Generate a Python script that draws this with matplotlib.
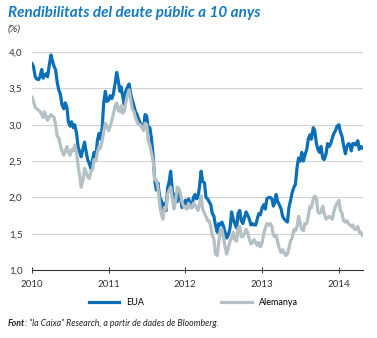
import numpy as np
import pandas as pd
import matplotlib
matplotlib.use("Agg")
import matplotlib.pyplot as plt
import matplotlib.dates as mdates
from matplotlib.ticker import FuncFormatter

plt.rcParams["font.family"] = ["Lato", "DejaVu Sans"]

# 4 readings per month (approx. 1st, 8th, 16th, 23rd), Jan 2010 - Apr 2014
months = pd.date_range("2010-01-01", "2014-04-01", freq="MS")
day_offsets = [0, 7, 15, 22]

eua = [
    # 2010
    3.84, 3.80, 3.66, 3.63, 3.62, 3.66, 3.76, 3.64, 3.68, 3.70, 3.66, 3.80,
    3.96, 3.88, 3.80, 3.76, 3.58, 3.48, 3.42, 3.28, 3.22, 3.30, 3.24, 3.04,
    2.98, 3.04, 2.96, 3.00, 2.88, 2.70, 2.62, 2.56, 2.68, 2.76, 2.62, 2.52,
    2.46, 2.40, 2.52, 2.62, 2.56, 2.78, 2.88, 2.80, 2.96, 3.30, 3.46, 3.32,
    # 2011
    3.34, 3.40, 3.36, 3.42, 3.58, 3.72, 3.60, 3.46, 3.52, 3.40, 3.28, 3.46,
    3.52, 3.56, 3.42, 3.34, 3.26, 3.18, 3.14, 3.08, 3.02, 2.98, 2.94, 3.14,
    3.12, 2.94, 2.96, 2.82, 2.56, 2.24, 2.10, 2.20, 2.00, 1.96, 1.84, 1.92,
    1.82, 2.12, 2.22, 2.36, 2.06, 2.04, 1.96, 1.94, 2.08, 2.00, 1.86, 1.90,
    # 2012
    1.96, 1.90, 1.98, 1.92, 1.86, 2.00, 2.04, 1.98, 2.00, 2.14, 2.36, 2.22,
    2.20, 2.00, 1.98, 1.94, 1.90, 1.78, 1.74, 1.62, 1.52, 1.64, 1.62, 1.66,
    1.60, 1.52, 1.44, 1.48, 1.58, 1.80, 1.70, 1.64, 1.58, 1.78, 1.82, 1.68,
    1.64, 1.72, 1.80, 1.76, 1.70, 1.62, 1.64, 1.62, 1.62, 1.70, 1.78, 1.76,
    # 2013
    1.86, 1.90, 1.84, 1.98, 2.00, 2.00, 1.98, 1.88, 1.92, 2.04, 1.94, 1.90,
    1.84, 1.74, 1.70, 1.68, 1.66, 1.86, 1.96, 2.06, 2.14, 2.18, 2.42, 2.54,
    2.50, 2.62, 2.50, 2.58, 2.66, 2.80, 2.86, 2.80, 2.96, 2.92, 2.74, 2.66,
    2.62, 2.70, 2.54, 2.52, 2.60, 2.74, 2.70, 2.74, 2.82, 2.88, 2.92, 2.98,
    # 2014
    3.00, 2.90, 2.84, 2.72, 2.60, 2.70, 2.74, 2.72, 2.64, 2.74, 2.74, 2.72,
    2.78, 2.66, 2.70, 2.68,
]

alemanya = [
    # 2010
    3.38, 3.32, 3.24, 3.22, 3.20, 3.18, 3.14, 3.10, 3.18, 3.12, 3.06, 3.10,
    3.14, 3.12, 3.10, 3.00, 2.84, 2.82, 2.72, 2.64, 2.58, 2.64, 2.70, 2.62,
    2.58, 2.66, 2.64, 2.72, 2.62, 2.44, 2.30, 2.14, 2.24, 2.40, 2.34, 2.28,
    2.26, 2.36, 2.38, 2.52, 2.50, 2.62, 2.70, 2.68, 2.78, 2.90, 3.02, 2.98,
    # 2011
    2.92, 2.98, 3.06, 3.14, 3.26, 3.30, 3.20, 3.18, 3.26, 3.16, 3.18, 3.30,
    3.42, 3.48, 3.34, 3.22, 3.18, 3.10, 3.04, 3.00, 3.00, 2.96, 2.92, 3.02,
    3.00, 2.78, 2.72, 2.62, 2.50, 2.24, 2.24, 2.14, 1.90, 1.78, 1.70, 1.86,
    1.84, 2.04, 2.10, 2.14, 1.96, 1.84, 1.96, 2.14, 2.12, 2.06, 1.94, 1.88,
    # 2012
    1.86, 1.84, 1.92, 1.86, 1.86, 1.92, 1.90, 1.86, 1.82, 1.90, 2.02, 1.84,
    1.78, 1.74, 1.68, 1.68, 1.60, 1.48, 1.42, 1.22, 1.20, 1.38, 1.56, 1.56,
    1.44, 1.32, 1.22, 1.30, 1.40, 1.44, 1.52, 1.42, 1.40, 1.58, 1.60, 1.46,
    1.46, 1.50, 1.56, 1.52, 1.42, 1.36, 1.38, 1.42, 1.38, 1.34, 1.38, 1.32,
    # 2013
    1.38, 1.50, 1.58, 1.64, 1.62, 1.64, 1.60, 1.48, 1.46, 1.48, 1.38, 1.30,
    1.24, 1.28, 1.24, 1.20, 1.22, 1.30, 1.40, 1.44, 1.56, 1.54, 1.60, 1.74,
    1.64, 1.56, 1.54, 1.64, 1.64, 1.74, 1.88, 1.86, 1.98, 2.02, 1.98, 1.80,
    1.78, 1.80, 1.88, 1.78, 1.70, 1.72, 1.74, 1.72, 1.70, 1.80, 1.88, 1.92,
    # 2014
    1.96, 1.82, 1.78, 1.68, 1.66, 1.68, 1.64, 1.62, 1.60, 1.62, 1.56, 1.56,
    1.60, 1.52, 1.52, 1.48,
]

dates = [m + pd.Timedelta(days=d) for m in months for d in day_offsets]

yticks = [1.0, 1.5, 2.0, 2.5, 3.0, 3.5, 4.0]
years = [2010, 2011, 2012, 2013, 2014]

blue = "#0b6fb8"
grey = "#b4c0c4"
title_blue = "#1479c0"
text_col = "#333333"

fig = plt.figure(figsize=(3.77, 3.38), dpi=100)
ax = fig.add_axes([0.085, 0.201, 0.878, 0.645])

ax.plot(dates, eua, color=blue, lw=2.3, label="EUA")
ax.plot(dates, alemanya, color=grey, lw=2.3, label="Alemanya")

ax.set_ylim(1.0, 4.0)
ax.set_xlim(pd.Timestamp("2010-01-01"), dates[-1] + pd.Timedelta(days=3))
ax.set_yticks(yticks)
ax.yaxis.set_major_formatter(FuncFormatter(lambda v, p: f"{v:.1f}".replace(".", ",")))
ax.set_xticks([pd.Timestamp(f"{y}-01-01") for y in years])
ax.xaxis.set_major_formatter(mdates.DateFormatter("%Y"))

for s in ["top", "right", "left"]:
    ax.spines[s].set_visible(False)
ax.spines["bottom"].set_color(text_col)
ax.spines["bottom"].set_linewidth(0.8)
ax.grid(axis="y", color="#d2d2d2", lw=0.8)
ax.set_axisbelow(True)
ax.tick_params(axis="y", length=0, pad=7, labelsize=7, labelcolor=text_col)
ax.tick_params(axis="x", direction="inout", length=5, width=0.7, color=text_col,
               pad=5, labelsize=7, labelcolor=text_col)

fig.text(0.021, 0.962, "Rendibilitats del deute públic a 10 anys", color=title_blue,
         fontsize=11, fontweight="bold", fontstyle="italic", va="center")
fig.text(0.021, 0.915, "(%)", color=text_col, fontsize=7.5, fontstyle="italic", va="center")

fig.legend(loc="center left", bbox_to_anchor=(0.235, 0.106), ncol=2, frameon=False,
           fontsize=6.5, handlelength=3.4, columnspacing=8.5, handletextpad=0.8,
           borderaxespad=0, borderpad=0)

t = fig.text(0.021, 0.043, "Font", fontsize=6.3, fontweight="bold", fontstyle="italic",
             color="#222222", va="center")
ax.annotate(": “la Caixa” Research, a partir de dades de Bloomberg.", xy=(1, 0.5),
            xycoords=t, va="center", ha="left", fontsize=6.3, fontstyle="italic",
            color="#222222", annotation_clip=False)

fig.savefig("out.png", dpi=100)
